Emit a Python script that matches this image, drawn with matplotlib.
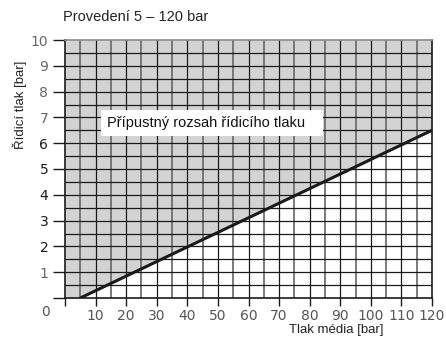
import numpy as np
import matplotlib.pyplot as plt
from matplotlib.patches import Rectangle

# data
medium_p = [5, 120]        # Tlak média [bar]
control_p = [0.0, 6.5]     # Řídicí tlak [bar]
x_ticks = [10, 20, 30, 40, 50, 60, 70, 80, 90, 100, 110, 120]
y_ticks = [1, 2, 3, 4, 5, 6, 7, 8, 9, 10]
title = "Provedení 5 – 120 bar"
area_label = "Přípustný rozsah řídicího tlaku"

plt.rcParams['font.family'] = ['Liberation Sans', 'DejaVu Sans']

fig = plt.figure(figsize=(4.46, 3.39), dpi=100)
W, H = 446, 339
ax = fig.add_axes([65 / W, (H - 298) / H, 367 / W, 258 / H])
ax.set_xlim(0, 120)
ax.set_ylim(0, 10)

# shaded admissible area (above the line)
xs = np.array([0] + medium_p)
ys = np.array([0] + control_p)
ax.fill_between(xs, ys, 10, color='#d3d3d3', zorder=0, lw=0)

# grid
for gx in np.arange(5, 120, 5):
    if gx % 10 == 0:
        ax.axvline(gx, color='#1a1a1a', lw=0.9, zorder=1)
    else:
        ax.axvline(gx, color='#707070', lw=1.3, zorder=1)
for gy in np.arange(0.5, 10, 0.5):
    ax.axhline(gy, color='#1a1a1a', lw=0.9, zorder=1)

ax.plot(medium_p, control_p, color='#1a1a1a', lw=2.2, zorder=3,
        solid_capstyle='butt')

# label box
ax.add_patch(Rectangle((11.8, 6.28), 72.6, 1.0, fc='white', ec='none', zorder=4))
ax.text(13.8, 6.8, area_label, fontsize=10.5, va='center', ha='left', zorder=5,
        color='#111111')

ax.set_xticks([0] + x_ticks)
ax.set_xticklabels([''] + [str(v) for v in x_ticks], color='#555555',
                   fontsize=10, family='DejaVu Sans')
ax.set_yticks([0] + y_ticks)
ylab = [''] + [str(v) for v in y_ticks]
ax.set_yticklabels(ylab, fontsize=10, family='DejaVu Sans')
for lab, v in zip(ax.get_yticklabels()[1:], y_ticks):
    lab.set_color('#1a1a1a' if 2 <= v <= 6 else '#666666')
ax.tick_params(axis='x', length=6, width=1, color='#1a1a1a', pad=2)
ax.tick_params(axis='y', length=9, width=1, color='#1a1a1a', pad=3)

for s in ['left', 'bottom', 'right']:
    ax.spines[s].set_color('#1a1a1a')
    ax.spines[s].set_linewidth(1.2)
ax.spines['top'].set_color('#888888')
ax.spines['top'].set_linewidth(1.2)

fig.text(45 / W, 1 - 312 / H, '0', fontsize=10, color='#555555',
         family='DejaVu Sans', ha='center', va='center')
fig.text(63 / W, 1 - 17 / H, title, fontsize=10.5, ha='left', va='center',
         color='#222222')
fig.text(20 / W, 1 - 105 / H, 'Řídicí tlak [bar]', fontsize=9.5,
         rotation=90, ha='center', va='center', color='#222222')
fig.text(336 / W, 1 - 330 / H, 'Tlak média [bar]', fontsize=9.5,
         ha='center', va='center', color='#222222')

fig.savefig('out.png', dpi=100)
